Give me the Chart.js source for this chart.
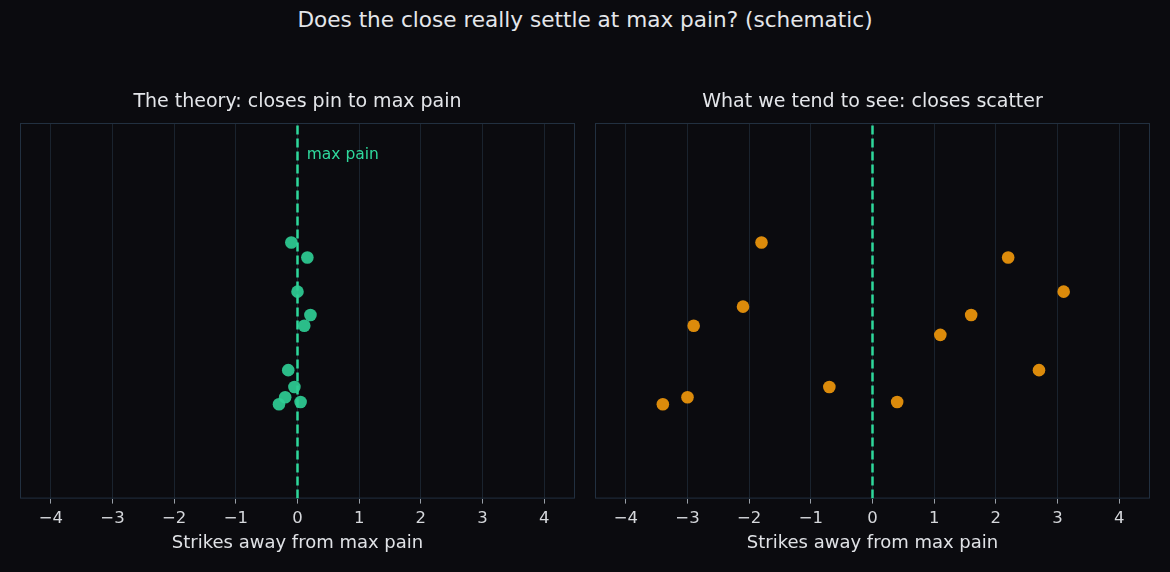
<!DOCTYPE html>
<html>
<head>
<meta charset="utf-8">
<script src="https://cdn.jsdelivr.net/npm/chart.js@4.4.1/dist/chart.umd.min.js"></script>
<style>
  html, body { margin: 0; padding: 0; background: #0b0b0f; }
  body { width: 1170px; height: 572px; position: relative; overflow: hidden; }
  #suptitle {
    position: absolute; left: 0; top: 7px; width: 1170px; text-align: center;
    font-family: 'DejaVu Sans', sans-serif; font-size: 21.6px; line-height: 26px; color: #e4e6ea;
  }
  .panel { position: absolute; top: 80px; width: 585px; height: 492px; }
  #left { left: 0; }
  #right { left: 585px; }
</style>
</head>
<body>
<div id="suptitle">Does the close really settle at max pain? (schematic)</div>
<div class="panel" id="left"><canvas id="c1"></canvas></div>
<div class="panel" id="right"><canvas id="c2"></canvas></div>
<script>
// strikes away from max pain (x) and a vertical jitter (y, 0..1)
const theoryX = [-0.10, 0.16, 0.00, 0.21, 0.11, -0.15, -0.05, -0.20, 0.05, -0.30];
const theoryY = [0.682, 0.642, 0.551, 0.489, 0.460, 0.342, 0.297, 0.270, 0.257, 0.251];

const seenX = [-1.8, 2.2, 3.1, -2.1, 1.6, -2.9, 1.1, 2.7, -0.7, -3.0, 0.4, -3.4];
const seenY = [0.682, 0.642, 0.551, 0.511, 0.489, 0.460, 0.436, 0.342, 0.297, 0.270, 0.257, 0.251];

const xTicks = [-4, -3, -2, -1, 0, 1, 2, 3, 4];
const maxPainX = [0, 0];
const maxPainY = [0, 1];

Chart.defaults.font.family = "'DejaVu Sans', sans-serif";
Chart.defaults.color = '#d6d8dc';

const GREEN = '#2fd89c';
const GREEN_PT = 'rgba(47, 205, 148, 0.92)';
const ORANGE_PT = 'rgba(232, 146, 12, 0.95)';

// matplotlib-like box round the plot area
const framePlugin = {
  id: 'frame',
  beforeDatasetsDraw(chart) {
    const a = chart.chartArea;
    const ctx = chart.ctx;
    ctx.save();
    ctx.strokeStyle = '#223040';
    ctx.lineWidth = 1;
    ctx.strokeRect(a.left + 0.5, a.top + 0.5, a.right - a.left - 1, a.bottom - a.top - 1);
    ctx.restore();
  }
};

const labelPlugin = {
  id: 'maxPainLabel',
  afterDatasetsDraw(chart, args, opts) {
    if (!opts.show) return;
    const x = chart.scales.x.getPixelForValue(0.15);
    const y = chart.scales.y.getPixelForValue(0.915);
    const ctx = chart.ctx;
    ctx.save();
    ctx.fillStyle = GREEN;
    ctx.font = "15.5px 'DejaVu Sans', sans-serif";
    ctx.textAlign = 'left';
    ctx.textBaseline = 'middle';
    ctx.fillText('max pain', x, y);
    ctx.restore();
  }
};

function toPoints(xs, ys) {
  return xs.map((x, i) => ({ x: x, y: ys[i] }));
}

function makeChart(id, title, xs, ys, color, pad, showLabel) {
  return new Chart(document.getElementById(id), {
    type: 'scatter',
    data: {
      datasets: [
        {
          data: toPoints(maxPainX, maxPainY),
          showLine: true,
          borderColor: GREEN,
          borderWidth: 2.5,
          borderDash: [9, 4],
          pointRadius: 0,
          order: 2
        },
        {
          data: toPoints(xs, ys),
          backgroundColor: color,
          borderColor: color,
          borderWidth: 0,
          pointRadius: 6.3,
          order: 1
        }
      ]
    },
    options: {
      responsive: true,
      maintainAspectRatio: false,
      animation: false,
      layout: { padding: pad },
      plugins: {
        legend: { display: false },
        tooltip: { enabled: false },
        title: {
          display: true,
          text: title,
          color: '#e4e6ea',
          font: { size: 19, weight: 'normal' },
          padding: { top: 10.6, bottom: 9.6 }
        },
        maxPainLabel: { show: showLabel }
      },
      scales: {
        x: {
          type: 'linear',
          min: -4.5,
          max: 4.5,
          afterBuildTicks: (axis) => { axis.ticks = xTicks.map(v => ({ value: v })); },
          ticks: {
            color: '#d6d8dc',
            font: { size: 16.5 },
            padding: 5,
            callback: (v) => String(v).replace('-', '\u2212')
          },
          grid: { color: '#1a232e', tickColor: '#9aa0a8', tickLength: 5 },
          border: { display: false },
          title: {
            display: true,
            text: 'Strikes away from max pain',
            color: '#e0e2e6',
            font: { size: 18 },
            padding: { top: -1, bottom: 0 }
          }
        },
        y: {
          min: 0,
          max: 1,
          display: false
        }
      }
    },
    plugins: [framePlugin, labelPlugin]
  });
}

makeChart('c1', 'The theory: closes pin to max pain', theoryX, theoryY, GREEN_PT,
  { left: 20, right: 10, top: 0, bottom: 18 }, true);
makeChart('c2', 'What we tend to see: closes scatter', seenX, seenY, ORANGE_PT,
  { left: 10, right: 20, top: 0, bottom: 18 }, false);
</script>
</body>
</html>
